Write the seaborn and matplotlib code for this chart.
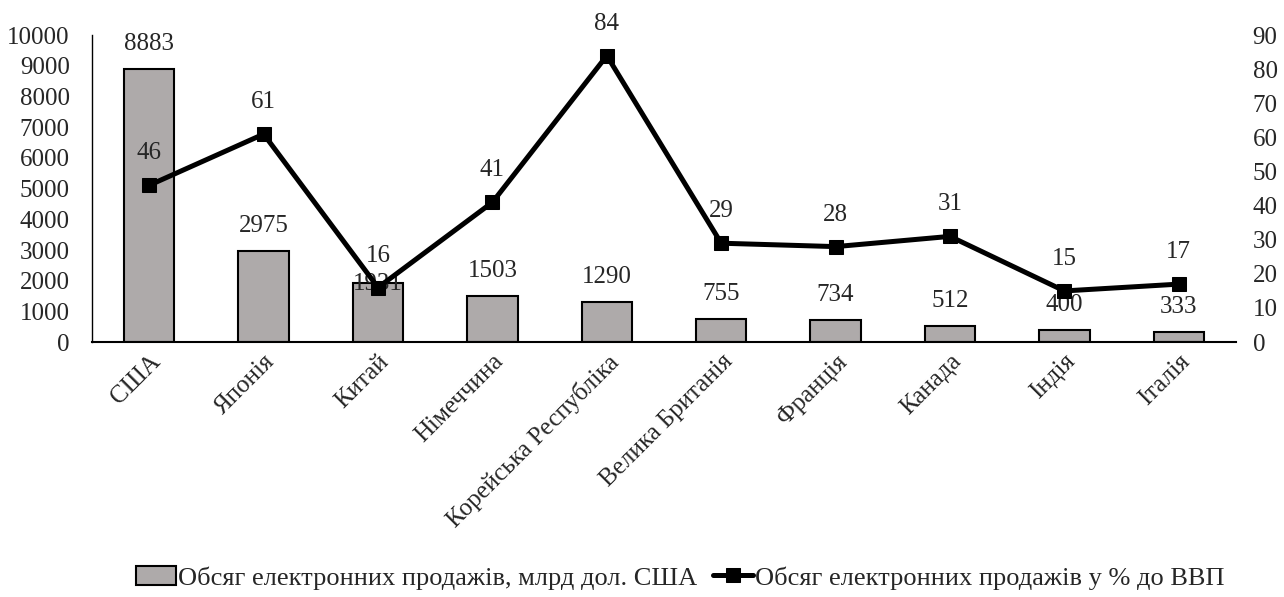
import matplotlib
matplotlib.use("Agg")
import matplotlib.pyplot as plt
import seaborn as sns
import pandas as pd

categories = ["США", "Японія", "Китай", "Німеччина", "Корейська Республіка",
              "Велика Британія", "Франція", "Канада", "Індія", "Італія"]
sales = [8883, 2975, 1931, 1503, 1290, 755, 734, 512, 400, 333]
share_gdp = [46, 61, 16, 41, 84, 29, 28, 31, 15, 17]
bar_label = "Обсяг електронних продажів, млрд дол. США"
line_label = "Обсяг електронних продажів у % до ВВП"

sns.set_theme(style="white")
plt.rcParams['font.family'] = ['Liberation Serif', 'DejaVu Serif']
FS = 18

df = pd.DataFrame({"cat": categories, "sales": sales, "share": share_gdp})

fig = plt.figure(figsize=(12.84, 5.97), dpi=100)
ax = fig.add_axes([0.0717, 0.427, 0.8909, 0.514])
sns.barplot(data=df, x="cat", y="sales", ax=ax, color="#AEAAAA",
            edgecolor="black", linewidth=1.5, width=0.44, saturation=1,
            label=bar_label)
ax.set_ylim(0, 10000)
ax.set_yticks(range(0, 10001, 1000))
ax.set_xlabel("")
ax.set_ylabel("")
ax.tick_params(axis="y", labelsize=FS, length=0, pad=16)
ax.tick_params(axis="x", labelsize=FS, length=0, pad=6)
for lab in ax.get_xticklabels():
    lab.set_rotation(45)
    lab.set_ha("right")
    lab.set_va("top")
    lab.set_rotation_mode("anchor")
for s in ["top", "right"]:
    ax.spines[s].set_visible(False)
ax.spines["left"].set_color("black")
ax.spines["bottom"].set_color("black")
ax.spines["left"].set_linewidth(1.0)
ax.spines["bottom"].set_linewidth(1.5)
ax.set_xlim(-0.5, len(categories) - 0.5)

for i, v in enumerate(sales):
    if categories[i] == "Китай":
        ax.annotate(str(v), (i, v), xytext=(0, -1), textcoords="offset points",
                    ha="center", va="center", fontsize=FS)
    else:
        ax.annotate(str(v), (i, v), xytext=(0, 18), textcoords="offset points",
                    ha="center", va="center", fontsize=FS)

ax2 = ax.twinx()
sns.lineplot(data=df, x="cat", y="share", ax=ax2, color="black", linewidth=3.6,
             marker="s", markersize=10, markeredgecolor="black", label=line_label,
             sort=False)
ax2.set_ylim(0, 90)
ax2.set_yticks(range(0, 91, 10))
ax2.set_ylabel("")
ax2.set_xlabel("")
ax2.tick_params(axis="y", labelsize=FS, length=0, pad=12)
for s in ["top", "right", "left", "bottom"]:
    ax2.spines[s].set_visible(False)
ax2.set_xlim(-0.5, len(categories) - 0.5)
for i, v in enumerate(share_gdp):
    ax2.annotate(str(v), (i, v), xytext=(0, 23), textcoords="offset points",
                 ha="center", va="center", fontsize=FS)

h1, l1 = ax.get_legend_handles_labels()
h2, l2 = ax2.get_legend_handles_labels()
if ax2.get_legend():
    ax2.get_legend().remove()
if ax.get_legend():
    ax.get_legend().remove()
fig.legend(h1 + h2, l1 + l2, loc="center", bbox_to_anchor=(0.53, 0.032), ncol=2,
           frameon=False, fontsize=19, handlelength=1.5, handletextpad=0.1,
           columnspacing=0.6)

fig.savefig("out.png", dpi=100)
